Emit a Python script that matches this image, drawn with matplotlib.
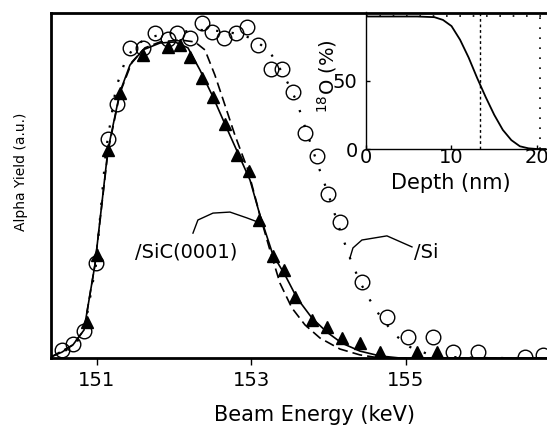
import matplotlib
matplotlib.use("Agg")
import matplotlib.pyplot as plt

plt.rcParams['font.family'] = ['DejaVu Sans']

# /Si data (open circles)
si_x = [150.547, 150.689, 150.832, 150.987, 151.142, 151.259, 151.427, 151.595,
        151.751, 151.919, 152.036, 152.204, 152.359, 152.489, 152.644, 152.799,
        152.942, 153.084, 153.252, 153.395, 153.537, 153.693, 153.848, 153.990,
        154.146, 154.430, 154.754, 155.026, 155.350, 155.608, 155.932, 156.540,
        156.773]
si_y = [2.3, 4.1, 7.8, 27.5, 63.5, 73.6, 89.9, 89.9,
        94.2, 92.5, 94.2, 92.8, 97.1, 94.5, 92.8, 94.2,
        95.9, 90.7, 83.8, 83.8, 77.1, 65.2, 58.6, 47.5,
        39.4, 22.0, 11.9, 6.1, 6.1, 1.7, 1.7, 0.3,
        0.9]

# /SiC(0001) data (filled triangles)
sic_x = [150.871, 151.000, 151.142, 151.298, 151.595, 151.919, 152.074, 152.204,
         152.359, 152.502, 152.657, 152.812, 152.968, 153.097, 153.278, 153.421,
         153.563, 153.783, 153.977, 154.172, 154.405, 154.663, 155.142, 155.401]
sic_y = [10.4, 29.9, 60.3, 76.8, 87.8, 90.1, 90.7, 87.2,
         81.2, 75.7, 67.8, 58.8, 54.2, 40.0, 29.6, 25.5,
         17.7, 11.0, 9.0, 5.8, 4.3, 1.7, 1.7, 1.7]

# simulation for /SiC (solid)
solid_x = [150.405, 150.547, 150.689, 150.832, 150.974, 151.142, 151.298, 151.427,
           151.595, 151.816, 152.010, 152.178, 152.333, 152.502, 152.657, 152.825,
           152.981, 153.110, 153.278, 153.434, 153.589, 153.783, 153.977, 154.172,
           154.405, 154.663, 154.922, 156.830]
solid_y = [0.3, 1.7, 3.8, 8.1, 27.0, 60.3, 77.1, 84.9,
           89.3, 91.3, 91.6, 89.9, 83.5, 75.7, 67.8, 59.4,
           51.6, 41.4, 29.9, 24.1, 17.4, 11.6, 7.5, 4.3,
           2.0, 0.6, 0.0, 0.0]

# simulation (dashed)
dash_x = [150.405, 150.689, 150.832, 150.974, 151.142, 151.298, 151.453, 151.621,
          151.816, 152.074, 152.269, 152.398, 152.527, 152.657, 152.786, 152.955,
          153.110, 153.239, 153.369, 153.524, 153.693, 153.887, 154.146, 154.405,
          154.663, 156.830]
dash_y = [0.3, 3.8, 8.1, 27.0, 59.7, 76.8, 85.8, 89.9,
          91.6, 92.2, 91.6, 89.3, 82.0, 73.3, 64.6, 54.5,
          41.4, 31.3, 21.7, 14.5, 9.6, 5.8, 2.6, 0.9,
          0.0, 0.0]

# simulation for /Si (dotted)
dot_x = [150.405, 150.547, 150.689, 150.832, 150.987, 151.117, 151.246, 151.362,
         151.492, 151.686, 151.880, 152.074, 152.333, 152.566, 152.761, 152.955,
         153.110, 153.239, 153.434, 153.589, 153.706, 153.861, 153.990, 154.146,
         154.275, 154.405, 154.534, 154.663, 154.858, 155.052, 155.311, 155.570,
         155.958, 156.830]
dot_y = [0.3, 1.7, 3.2, 7.5, 27.0, 60.3, 78.3, 85.8,
         90.7, 93.0, 93.9, 94.5, 95.1, 94.8, 94.2, 93.0,
         91.0, 88.7, 81.4, 74.2, 66.1, 55.9, 47.8, 37.1,
         29.0, 22.0, 16.8, 12.2, 6.7, 3.2, 0.9, 0.3,
         0.0, 0.0]

# inset: 18O profile
depth_nm = [0, 2, 4, 6, 8, 9, 10, 11, 12, 13, 14, 15, 16, 17, 18, 19, 20, 21]
o18_pct = [97, 97, 97, 97, 96.5, 94.5, 90, 80, 67, 52, 38, 25, 14, 6.5, 2, 0.5, 0, 0]
inset_dashed_depth = 13.3
inset_dotted_depth = 20.4
inset_plateau = 97

main_xticks = [151, 153, 155]
inset_xticks = [0, 10, 20]
inset_yticks = [0, 50]

# leader lines for labels
sic_lead_x = [152.243, 152.307, 152.502, 152.722, 152.942, 153.084]
sic_lead_y = [36.2, 40.0, 42.0, 42.3, 40.6, 39.4]
si_lead_x = [154.275, 154.314, 154.430, 154.754, 155.078]
si_lead_y = [29.0, 31.9, 34.2, 35.4, 32.2]

fig = plt.figure(figsize=(5.47, 4.26), dpi=100)
ax = fig.add_axes([0.0932, 0.1596, 0.9068, 0.8099])

ax.plot(dot_x, dot_y, color='black', lw=1.6, linestyle=(0, (1, 6)), zorder=2)
ax.plot(dash_x, dash_y, color='black', lw=1.2, linestyle=(0, (6, 3)), zorder=2)
ax.plot(solid_x, solid_y, color='black', lw=1.2, zorder=3)
ax.plot(si_x, si_y, linestyle='none', marker='o', markersize=10.5,
        mfc='none', mec='black', mew=1.0, zorder=4)
ax.plot(sic_x, sic_y, linestyle='none', marker='^', markersize=9,
        mfc='black', mec='black', zorder=5)

ax.plot(sic_lead_x, sic_lead_y, color='black', lw=1.0)
ax.plot(si_lead_x, si_lead_y, color='black', lw=1.0)
ax.text(152.152, 30.7, '/SiC(0001)', fontsize=14, ha='center', va='center')
ax.text(155.103, 30.7, '/Si', fontsize=14, ha='left', va='center')

ax.set_xlim(150.405, 156.826)
ax.set_ylim(0, 100)
ax.set_xticks(main_xticks)
ax.set_xticklabels([str(t) for t in main_xticks])
ax.set_yticks([])
ax.tick_params(axis='x', direction='out', length=5, width=1, labelsize=14, pad=4.5)
for s in ['left', 'bottom', 'top']:
    ax.spines[s].set_linewidth(2.0)
ax.spines['right'].set_visible(False)

ax.set_xlabel('Beam Energy (keV)', fontsize=15)
ax.xaxis.set_label_coords(0.532, -0.136)
ax.set_ylabel('Alpha Yield (a.u.)', fontsize=10)
ax.yaxis.set_label_coords(-0.046, 0.539)

# inset
ins = fig.add_axes([0.6691, 0.6502, 0.3309, 0.3207])
ins.set_facecolor('none')
ins.plot(depth_nm, o18_pct, color='black', lw=1.3)
ins.axvline(inset_dashed_depth, color='black', lw=1.0, linestyle=(0, (2, 2)))
ins.axvline(inset_dotted_depth, color='black', lw=1.2, linestyle=(0, (1, 5)))
ins.axhline(inset_plateau, color='black', lw=1.2, linestyle=(0, (1, 7)))
ins.set_xlim(0, 21.17)
ins.set_ylim(0, 100)
ins.set_xticks(inset_xticks)
ins.set_yticks(inset_yticks)
ins.tick_params(axis='both', direction='in', length=3, width=1, labelsize=14)
ins.tick_params(axis='x', pad=-1)
ins.tick_params(axis='y', pad=6)
ins.spines['top'].set_visible(False)
ins.spines['right'].set_visible(False)
ins.spines['left'].set_linewidth(1.0)
ins.spines['bottom'].set_linewidth(1.0)
ins.set_xlabel('Depth (nm)', fontsize=15)
ins.xaxis.set_label_coords(0.47, -0.176)
ins.set_ylabel('$^{18}$O (%)', fontsize=14)
ins.yaxis.set_label_coords(-0.149, 0.531)

fig.savefig('out.png', dpi=100)
